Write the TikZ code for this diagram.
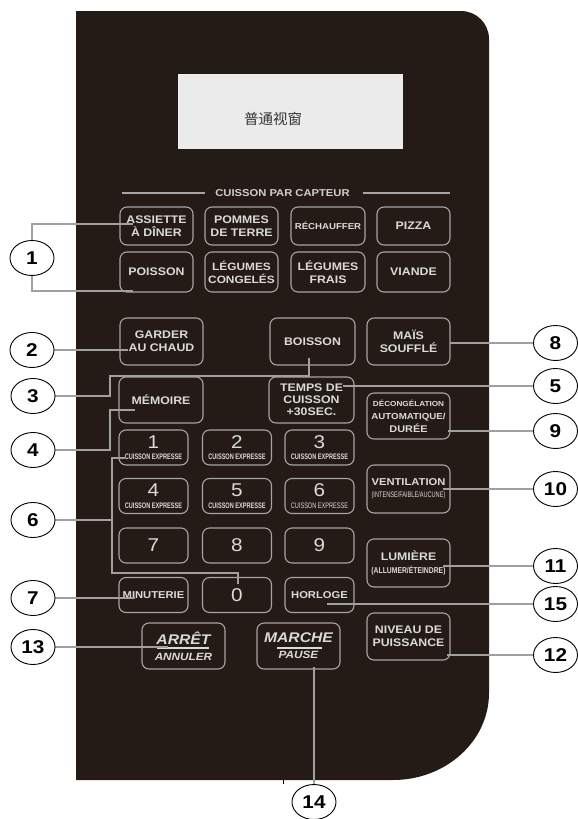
\documentclass[tikz,border=0pt]{standalone}
\usepackage{fontspec}
\usetikzlibrary{shapes.geometric,calc}
\newfontfamily\sansw{Liberation Sans}[FakeStretch=1.12]
\newfontfamily\sansn{Liberation Sans}[FakeStretch=0.8]
\newfontfamily\sansc{Liberation Sans}[FakeStretch=0.7]
\newfontfamily\cjk{Noto Sans CJK SC}
\newcommand\fsz[2]{\fontsize{#1}{#2}\selectfont}
\definecolor{panelc}{RGB}{36,27,23}
\definecolor{btnline}{RGB}{165,165,165}
\definecolor{btntext}{RGB}{218,218,218}
\definecolor{connc}{RGB}{160,160,160}
\definecolor{dispc}{RGB}{235,235,235}
\pgfdeclarelayer{front}
\pgfsetlayers{main,front}
\begin{document}
\begin{tikzpicture}[x=1pt,y=-1pt,
  btn/.style={draw=btnline, line width=1.1pt, rounded corners=7pt, text=btntext,
    align=center, inner sep=0pt, font=\sansw\bfseries\fsz{11}{13}},
  numbtn/.style={btn, minimum width=69, minimum height=35, font=\sansw\fsz{18.5}{11.5}},
  callout/.style={ellipse, draw=black, fill=white, line width=0.9pt, minimum width=44,
    minimum height=35, inner sep=0pt, font=\sansw\bfseries\fsz{18.5}{18.5}},
  conn/.style={draw=connc, line width=1.5pt},
  hdrline/.style={draw=btnline, line width=2pt},
  barline/.style={draw=btntext, line width=1.1pt}]
\useasboundingbox (0,0) rectangle (578,819);
% panel
\fill[panelc] (76,11) -- (461,11) .. controls (476.5,11) and (489,23.5) .. (489,39)
  -- (489,693) .. controls (489,741) and (446,780) .. (393,780) -- (76,780) -- cycle;
\draw[line width=0.6pt] (283,779) -- (283,784);
% display
\node[fill=dispc, minimum width=225, minimum height=75, inner sep=0pt] (disp) at (290.5,111.5) {};
\node[font=\cjk\fsz{14.5}{14.5}, text=black!80, inner sep=0pt] (disptxt) at (273,119) {普通视窗};
% header
\node[font=\sansw\bfseries\fsz{10}{10}, text=btntext!95!black, inner sep=0pt] (hdr) at (282.5,193) {CUISSON PAR CAPTEUR};
\coordinate (hl) at (122,193);
\coordinate (hr) at (450,193);
\draw[hdrline] (hl) -- ($(hdr.west)+(-10,0)$);
\draw[hdrline] ($(hdr.east)+(13,0)$) -- (hr);
% sensor buttons
\node[btn, minimum width=73, minimum height=38] (assiette) at (156.5,226) {ASSIETTE\\À DÎNER};
\node[btn, minimum width=73, minimum height=38] (pommes) at (241.5,226) {POMMES\\DE TERRE};
\node[btn, minimum width=74, minimum height=38] (rech) at (328,226) {\fsz{8.6}{10}RÉCHAUFFER};
\node[btn, minimum width=73, minimum height=38] (pizza) at (413.5,226) {PIZZA};
\node[btn, minimum width=73, minimum height=40] (poisson) at (156.5,272) {POISSON};
\node[btn, minimum width=73, minimum height=40, font=\sansw\bfseries\fsz{10.6}{13}] (legcong) at (241.5,272) {LÉGUMES\\CONGELÉS};
\node[btn, minimum width=74, minimum height=40] (legfrais) at (328,272) {LÉGUMES\\FRAIS};
\node[btn, minimum width=73, minimum height=40] (viande) at (413.5,272) {VIANDE};
% middle buttons
\node[btn, minimum width=83, minimum height=47] (garder) at (161.5,341.5) {GARDER\\AU CHAUD};
\node[btn, minimum width=85, minimum height=47] (boisson) at (312.5,341.5) {BOISSON};
\node[btn, minimum width=83, minimum height=47] (mais) at (408.5,341.5) {MAÏS\\SOUFFLÉ};
\node[btn, minimum width=84, minimum height=46] (memoire) at (161,400) {MÉMOIRE};
\node[btn, minimum width=85, minimum height=46, font=\sansw\bfseries\fsz{11}{12}] (temps) at (311.5,400) {TEMPS DE\\CUISSON\\+30SEC.};
\node[btn, minimum width=83, minimum height=46, font=\sansw\bfseries\fsz{8.7}{13}] (decong) at (408.5,416)
  {{\fsz{7.3}{13}DÉCONGÉLATION}\\AUTOMATIQUE/\\{\fsz{9.7}{13}DURÉE}};
% number pad
\node[numbtn] (n1) at (153.5,447.5) {1\\{\sansc\bfseries\fsz{8}{11.5}CUISSON EXPRESSE}};
\node[numbtn] (n2) at (237,447.5) {2\\{\sansc\bfseries\fsz{8}{11.5}CUISSON EXPRESSE}};
\node[numbtn] (n3) at (319.5,447.5) {3\\{\sansc\bfseries\fsz{8}{11.5}CUISSON EXPRESSE}};
\node[numbtn] (n4) at (153.5,496) {4\\{\sansc\bfseries\fsz{8}{11.5}CUISSON EXPRESSE}};
\node[numbtn] (n5) at (237,496) {5\\{\sansc\bfseries\fsz{8}{11.5}CUISSON EXPRESSE}};
\node[numbtn] (n6) at (319.5,496) {6\\{\sansc\fsz{8}{11.5}CUISSON EXPRESSE}};
\node[numbtn] (n7) at (153.5,545.5) {7};
\node[numbtn] (n8) at (237,545.5) {8};
\node[numbtn] (n9) at (319.5,545.5) {9};
\node[numbtn, font=\sansw\bfseries\fsz{10}{11}] (minut) at (153.5,595) {MINUTERIE};
\node[numbtn] (n0) at (237,595) {0};
\node[numbtn, font=\sansw\bfseries\fsz{10}{11}] (horloge) at (319.5,595) {HORLOGE};
% right column
\node[btn, minimum width=83, minimum height=48, font=\sansw\bfseries\fsz{10}{12}] (vent) at (408.5,489)
  {VENTILATION\\{\sansc\mdseries\fsz{8}{12}(INTENSE/FAIBLE/AUCUNE)}};
\node[btn, minimum width=83, minimum height=48, font=\sansw\bfseries\fsz{11}{13}] (lum) at (408.5,563)
  {LUMIÈRE\\{\sansn\fsz{8.5}{13}(ALLUMER/ÉTEINDRE)}};
\node[btn, minimum width=83, minimum height=47] (niveau) at (408.5,636.5) {NIVEAU DE\\PUISSANCE};
% start / stop
\node[btn, minimum width=83, minimum height=46, font=\sansw\bfseries\itshape\fsz{14}{16}] (arret) at (183.5,646)
  {ARRÊT\\{\fsz{10.5}{16}ANNULER}};
\node[btn, minimum width=83, minimum height=46, font=\sansw\bfseries\itshape\fsz{14}{16}] (marche) at (298.5,646)
  {MARCHE\\{\fsz{10.5}{16}PAUSE}};
\draw[barline] ($(arret.center)+(-26.5,2)$) -- ($(arret.center)+(25.5,2)$);
\draw[barline] ($(marche.center)+(-21.5,2)$) -- ($(marche.center)+(23.5,2)$);
% callouts
\begin{pgfonlayer}{front}
\node[callout] (c1) at (32,258) {1};
\node[callout] (c2) at (32,350) {2};
\node[callout] (c3) at (33,396) {3};
\node[callout] (c4) at (33,450) {4};
\node[callout] (c6) at (33,520) {6};
\node[callout] (c7) at (33,598) {7};
\node[callout] (c13) at (33,647) {13};
\node[callout] (c8) at (555.5,343) {8};
\node[callout] (c5) at (555.5,386) {5};
\node[callout] (c9) at (555.5,431) {9};
\node[callout] (c10) at (555.5,489) {10};
\node[callout] (c11) at (555.5,566) {11};
\node[callout] (c15) at (555.5,604) {15};
\node[callout] (c12) at (555.5,655) {12};
\node[callout] (c14) at (314,802) {14};
\end{pgfonlayer}
% connector end points
\coordinate (e1a) at (133,224);
\coordinate (e1b) at (133,291);
\coordinate (e2) at (128,350);
\coordinate (e3) at (309,358);
\coordinate (e4) at (135,410);
\coordinate (e6a) at (125,458);
\coordinate (e6b) at (238,584);
\coordinate (e7) at (135,598);
\coordinate (e13) at (168,647);
\coordinate (e8) at (450,343);
\coordinate (e5) at (343,386);
\coordinate (e9) at (448,431);
\coordinate (e10) at (443,489);
\coordinate (e11) at (443,566);
\coordinate (e15) at (327,604);
\coordinate (e12) at (447,655);
\coordinate (e14) at (314,667);
% connectors
\draw[conn] (e1a) -| (c1.center) |- (e1b);
\draw[conn] (c2.center) -- (e2);
\draw[conn] (c3.center) -- (110,396) -- (110,376) -- (309,376) -- (e3);
\draw[conn] (c4.center) -- (110,450) -- (110,410) -- (e4);
\draw[conn] (c6.center) -- (112,520);
\draw[conn] (e6a) -- (112,458) -- (112,573) -- (238,573) -- (e6b);
\draw[conn] (c7.center) -- (e7);
\draw[conn] (c13.center) -- (e13);
\draw[conn] (c8.center) -- (e8);
\draw[conn] (c5.center) -- (e5);
\draw[conn] (c9.center) -- (e9);
\draw[conn] (c10.center) -- (e10);
\draw[conn] (c11.center) -- (e11);
\draw[conn] (c15.center) -- (e15);
\draw[conn] (c12.center) -- (e12);
\draw[conn] (c14.center) -- (e14);
\end{tikzpicture}
\end{document}
